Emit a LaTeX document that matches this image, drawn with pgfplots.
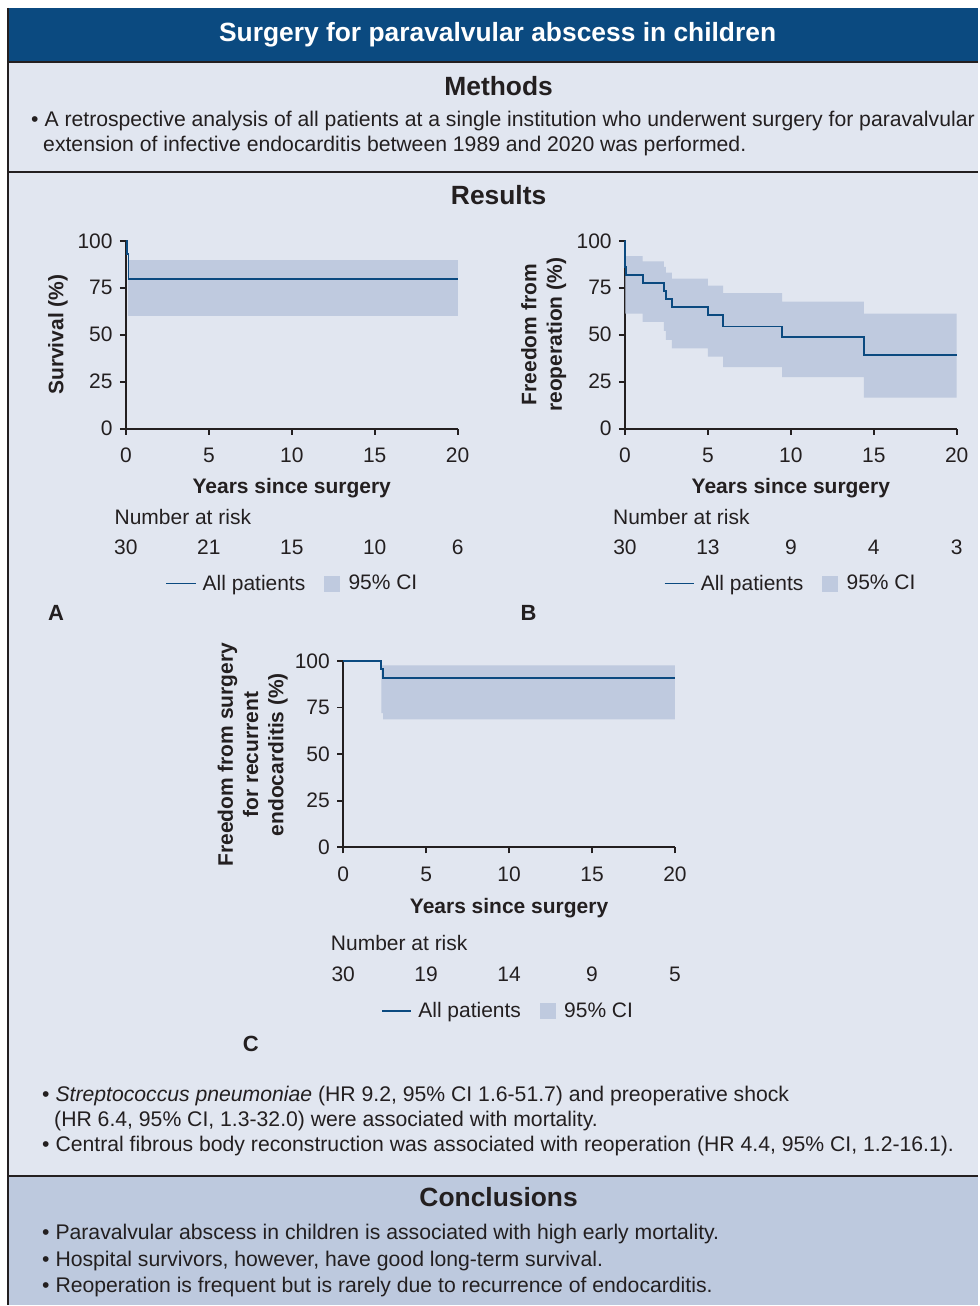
\documentclass[border=0pt]{standalone}
\usepackage{pgfplots}
\pgfplotsset{compat=1.18}
\usepackage{fontspec}
\setmainfont{Liberation Sans}
\definecolor{hdr}{HTML}{0B4A80}
\definecolor{bgl}{HTML}{E1E6F0}
\definecolor{bgc}{HTML}{BDC9DE}
\definecolor{ci}{HTML}{BFCADF}
\definecolor{kmline}{HTML}{0B4A80}
\definecolor{ink}{HTML}{231F20}
\newcommand{\tfont}{\fontsize{15.75}{19}\selectfont}
\newcommand{\bfont}{\fontsize{15.9}{19}\selectfont}
\newcommand{\hfont}{\fontsize{19.8}{22}\selectfont\bfseries}
\newcommand{\lfont}{\fontsize{16.5}{19}\selectfont\bfseries}
\pgfplotsset{
  kmstyle/.style={
    scale only axis, width=249pt, height=141pt, anchor=south west,
    xmin=0, xmax=20, ymin=0, ymax=100,
    axis x line=bottom, axis y line=left,
    axis line style={-, draw=ink, line width=1.3pt},
    xtick={0,5,10,15,20}, ytick={0,25,50,75,100},
    tick style={draw=ink, line width=1.3pt}, tick align=outside, major tick length=4.5pt,
    ticklabel style={font=\tfont, text=ink},
    xticklabel style={yshift=-6.5pt},
    yticklabel style={xshift=-2pt},
    /pgf/number format/assume math mode=true,
    xlabel={Years since surgery},
    xlabel style={font=\tfont\bfseries, text=ink, anchor=center},
    ylabel style={font=\tfont\bfseries, text=ink, anchor=center, align=center},
    clip=false,
    legend columns=2,
    legend style={draw=none, fill=none, font=\tfont, text=ink, anchor=center,
      /tikz/every even column/.append style={column sep=12pt}},
  },
  lineleg/.style={legend image code/.code={\draw[draw=kmline, line width=1.4pt] (-4pt,0pt) -- (18pt,0pt); \path (21pt,0pt);}},
  cileg/.style={legend image code/.code={\fill[ci] (4pt,-5.6pt) rectangle (15.5pt,5.6pt); \path (20pt,0pt);}},
}
\begin{document}
\begin{tikzpicture}[x=0.75pt, y=0.75pt]
\begin{scope}[yshift=979.5pt, y=-0.75pt]
\fill[white] (0,0) rectangle (979,1306);
\fill[hdr] (8,8) rectangle (979,62);
\fill[bgl] (8,62) rectangle (979,1177);
\fill[bgc] (8,1177) rectangle (979,1306);
\draw[ink, line width=1.5pt] (8,8) -- (8,1306);
\draw[ink, line width=1.5pt] (8,62) -- (979,62);
\draw[ink, line width=1.5pt] (8,172) -- (979,172);
\draw[ink, line width=1.5pt] (8,1177) -- (979,1177);
\node[white, font=\hfont] at (498,35) {Surgery for paravalvular abscess in children};
\node[ink, font=\hfont] at (499,86) {Methods};
\begin{scope}[every node/.style={ink, font=\bfont, anchor=base west, inner sep=0pt}]
\node at (31,127) {\textbullet\ A retrospective analysis of all patients at a single institution who underwent surgery for paravalvular};
\node at (43,152) {extension of infective endocarditis between 1989 and 2020 was performed.};
\node at (42,1102) {\textbullet\ \textit{Streptococcus pneumoniae} (HR 9.2, 95\% CI 1.6-51.7) and preoperative shock};
\node at (54,1127) {(HR 6.4, 95\% CI, 1.3-32.0) were associated with mortality.};
\node at (42,1152) {\textbullet\ Central fibrous body reconstruction was associated with reoperation (HR 4.4, 95\% CI, 1.2-16.1).};
\node at (42,1240) {\textbullet\ Paravalvular abscess in children is associated with high early mortality.};
\node at (42,1267) {\textbullet\ Hospital survivors, however, have good long-term survival.};
\node at (42,1293) {\textbullet\ Reoperation is frequent but is rarely due to recurrence of endocarditis.};
\end{scope}
\node[ink, font=\hfont] at (499,195) {Results};
\node[ink, font=\hfont] at (499,1198) {Conclusions};
\node[ink, font=\lfont] at (56,613) {A};
\node[ink, font=\lfont] at (529,613) {B};
\node[ink, font=\lfont] at (251,1045) {C};
\end{scope}

% ---------- Panel A ----------
\begin{axis}[kmstyle, at={(94.5pt,657.75pt)},
  ylabel={Survival (\%)},
  ylabel style={at={(axis description cs:-0.205,0.5)}},
  xlabel style={at={(axis description cs:0.5,-0.319)}},
  legend style={at={(0.503,-0.824)}}]
\addlegendimage{lineleg}\addlegendentry{All patients}
\addlegendimage{cileg}\addlegendentry{95\% CI}
% 95% CI band (upper limit left to right, then lower limit right to left)
\addplot[fill=ci, draw=none, forget plot] coordinates {(0.12,90) (20,90) (20,60) (0.12,60)} -- cycle;
\addplot[kmline, line width=1.4pt, const plot, forget plot] coordinates {(0,100) (0.05,93) (0.16,79.5) (20,79.5)};
\node[font=\tfont, text=ink, anchor=west] at ([xshift=-12pt, yshift=-66pt]axis cs:0,0) {Number at risk};
\node[font=\tfont, text=ink] at ([yshift=-89.25pt]axis cs:0,0) {30};
\node[font=\tfont, text=ink] at ([yshift=-89.25pt]axis cs:5,0) {21};
\node[font=\tfont, text=ink] at ([yshift=-89.25pt]axis cs:10,0) {15};
\node[font=\tfont, text=ink] at ([yshift=-89.25pt]axis cs:15,0) {10};
\node[font=\tfont, text=ink] at ([yshift=-89.25pt]axis cs:20,0) {6};
\end{axis}

% ---------- Panel B ----------
\begin{axis}[kmstyle, at={(469.1pt,657.75pt)},
  ylabel={Freedom from\\reoperation (\%)},
  ylabel style={at={(axis description cs:-0.245,0.5)}},
  xlabel style={at={(axis description cs:0.5,-0.319)}},
  legend style={at={(0.50,-0.824)}}]
\addlegendimage{lineleg}\addlegendentry{All patients}
\addlegendimage{cileg}\addlegendentry{95\% CI}
\addplot[fill=ci, draw=none, forget plot] coordinates {
 (0.03,91.8) (1.07,91.8) (1.07,89.0) (2.34,89.0) (2.34,86.1) (2.46,86.1) (2.46,83.1) (2.82,83.1)
 (2.82,79.9) (5.0,79.9) (5.0,76.2) (5.92,76.2) (5.92,72.1) (9.47,72.1) (9.47,67.6) (14.4,67.6)
 (14.4,61.2) (20,61.2)
 (20,16.5) (14.4,16.5) (14.4,27.4) (9.47,27.4) (9.47,32.7) (5.92,32.7) (5.92,38.3) (5.0,38.3)
 (5.0,42.7) (2.82,42.7) (2.82,47.2) (2.46,47.2) (2.46,52.0) (2.34,52.0) (2.34,56.8) (1.07,56.8)
 (1.07,61.2) (0.03,61.2)} -- cycle;
\addplot[kmline, line width=1.4pt, const plot, forget plot] coordinates {(0,100) (0.02,86) (0.06,82) (1.07,77.4) (2.34,73.3) (2.46,68.9) (2.82,64.8) (5.0,60.3) (5.92,54.4) (9.47,48.8) (14.4,39.0) (20,39.0)};
\node[font=\tfont, text=ink, anchor=west] at ([xshift=-12.4pt, yshift=-66pt]axis cs:0,0) {Number at risk};
\node[font=\tfont, text=ink] at ([yshift=-89.25pt]axis cs:0,0) {30};
\node[font=\tfont, text=ink] at ([yshift=-89.25pt]axis cs:5,0) {13};
\node[font=\tfont, text=ink] at ([yshift=-89.25pt]axis cs:10,0) {9};
\node[font=\tfont, text=ink] at ([yshift=-89.25pt]axis cs:15,0) {4};
\node[font=\tfont, text=ink] at ([yshift=-89.25pt]axis cs:20,0) {3};
\end{axis}

% ---------- Panel C ----------
\begin{axis}[kmstyle, at={(257.6pt,343.5pt)}, height=140pt,
  ylabel={Freedom from surgery\\for recurrent\\endocarditis (\%)},
  ylabel style={at={(axis description cs:-0.273,0.497)}},
  xlabel style={at={(axis description cs:0.5,-0.326)}},
  legend style={at={(0.498,-0.877)}}]
\addlegendimage{lineleg}\addlegendentry{All patients}
\addlegendimage{cileg}\addlegendentry{95\% CI}
\addplot[fill=ci, draw=none, forget plot] coordinates {(2.3,97.5) (20,97.5) (20,68.6) (2.4,68.6) (2.4,72) (2.3,72)} -- cycle;
\addplot[kmline, line width=1.4pt, const plot, forget plot] coordinates {(0,100) (2.3,95.6) (2.4,91.0) (20,91.0)};
\node[font=\tfont, text=ink, anchor=west] at ([xshift=-12.7pt, yshift=-72pt]axis cs:0,0) {Number at risk};
\node[font=\tfont, text=ink] at ([yshift=-95.25pt]axis cs:0,0) {30};
\node[font=\tfont, text=ink] at ([yshift=-95.25pt]axis cs:5,0) {19};
\node[font=\tfont, text=ink] at ([yshift=-95.25pt]axis cs:10,0) {14};
\node[font=\tfont, text=ink] at ([yshift=-95.25pt]axis cs:15,0) {9};
\node[font=\tfont, text=ink] at ([yshift=-95.25pt]axis cs:20,0) {5};
\end{axis}
\end{tikzpicture}
\end{document}
